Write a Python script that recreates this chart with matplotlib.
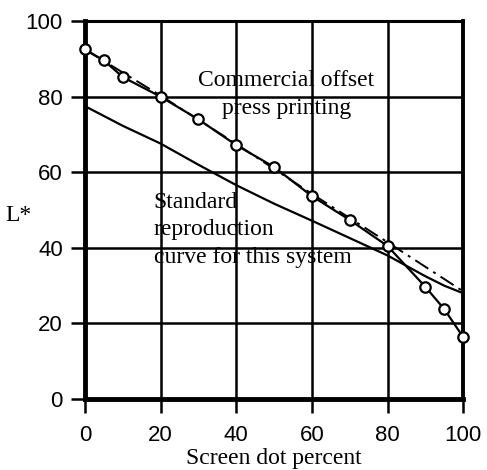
import numpy as np
import matplotlib.pyplot as plt

# measured press points (circles)
dot_pct = [0, 5, 10, 20, 30, 40, 50, 60, 70, 80, 90, 95, 100]
press_L = [92.5, 89.6, 85.2, 80.0, 74.0, 67.2, 61.4, 53.7, 47.4, 40.5, 29.7, 23.8, 16.4]

# dash-dot fit for the press
fit_pct = [0, 20, 40, 60, 80, 100]
fit_L = [92.5, 80.3, 67.5, 54.3, 41.5, 28.5]

# standard reproduction curve
std_pct = [0, 10, 20, 30, 40, 50, 60, 70, 80, 90, 95, 100]
std_L = [77.5, 72.3, 67.6, 62.0, 56.6, 51.7, 47.2, 42.6, 38.0, 32.5, 30.0, 28.0]

xticks = [0, 20, 40, 60, 80, 100]
yticks = [0, 20, 40, 60, 80, 100]

serif = 'Liberation Serif'
sans = 'Liberation Sans'

fig = plt.figure(figsize=(4.87, 4.70), dpi=100)
ax = fig.add_axes([0.1745, 0.151, 0.7765, 0.804])

ax.plot(std_pct, std_L, color='black', lw=1.6, clip_on=False, zorder=3)
ax.plot(fit_pct, fit_L, color='black', lw=1.4, dashes=(8, 3, 1.5, 3),
        clip_on=False, zorder=3)
ax.plot(dot_pct, press_L, color='black', lw=1.6, marker='o', ms=7.5,
        mfc='white', mec='black', mew=1.6, clip_on=False, zorder=4)

ax.set_xlim(0, 100)
ax.set_ylim(0, 100)
ax.set_xticks(xticks)
ax.set_yticks(yticks)
ax.grid(True, color='black', lw=1.8)
ax.set_axisbelow(True)

ax.tick_params(direction='out', length=10, width=1.8, labelsize=16, pad=6)
ax.tick_params(axis='x', pad=9)
for lab in ax.get_xticklabels() + ax.get_yticklabels():
    lab.set_fontfamily(sans)

ax.spines['left'].set_linewidth(3.5)
ax.spines['bottom'].set_linewidth(3.5)
ax.spines['right'].set_linewidth(2.8)
ax.spines['top'].set_linewidth(2.2)

ax.set_xlabel('Screen dot percent', fontfamily=serif, fontsize=17, labelpad=1)
ax.text(-17.5, 48.5, 'L*', fontfamily=serif, fontsize=17, ha='center',
        va='center')

ax.text(53.3, 80.5, 'Commercial offset\npress printing', fontfamily=serif,
        fontsize=17, ha='center', va='center', linespacing=1.45)
ax.text(18.2, 44.8, 'Standard\nreproduction\ncurve for this system',
        fontfamily=serif, fontsize=17, ha='left', va='center', linespacing=1.4)

fig.savefig('out.png', dpi=100)
